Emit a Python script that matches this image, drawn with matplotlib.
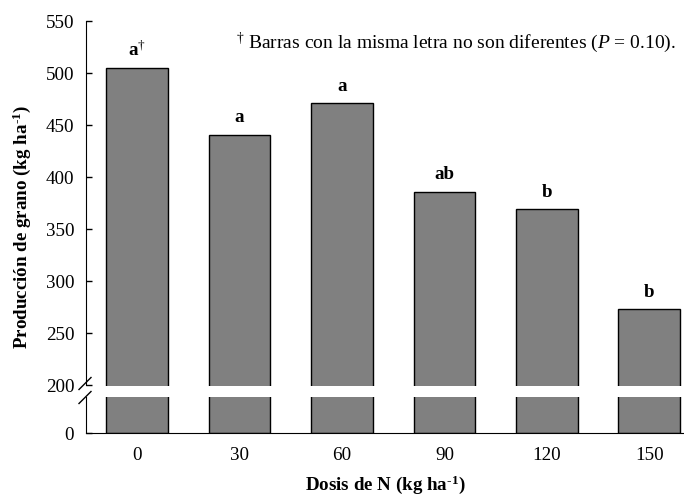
import matplotlib
matplotlib.use("Agg")
import matplotlib.pyplot as plt
import numpy as np

# Data
doses = ["0", "30", "60", "90", "120", "150"]
yield_kg = [505, 441, 471, 386, 369, 273]
letters = ["a$^{\\dagger}$", "a", "a", "ab", "b", "b"]
top_ticks = [200, 250, 300, 350, 400, 450, 500, 550]

plt.rcParams['font.family'] = ['Liberation Serif', 'DejaVu Serif']
plt.rcParams['mathtext.fontset'] = 'custom'
plt.rcParams['mathtext.rm'] = 'Liberation Serif'
plt.rcParams['mathtext.it'] = 'Liberation Serif:italic'
plt.rcParams['mathtext.bf'] = 'Liberation Serif:bold'

FS = 13.7
W, H = 684, 504
fig = plt.figure(figsize=(W / 100, H / 100), dpi=100)

left = 86 / W
width = (W - 86) / W
ax1 = fig.add_axes([left, 1 - 385.5 / H, width, (385.5 - 21) / H])
ax2 = fig.add_axes([left, 1 - 433 / H, width, (433 - 397) / H])

x = np.arange(len(doses))
for ax in (ax1, ax2):
    ax.bar(x, yield_kg, width=0.6, color="#808080", edgecolor="black", linewidth=1.0)
    ax.set_xlim(-0.5, 5.34)
    for s in ("top", "right"):
        ax.spines[s].set_visible(False)
    ax.tick_params(axis="y", direction="in", length=4.5, width=1, labelsize=FS, pad=8.5)

ax1.set_ylim(200, 550)
ax1.set_yticks(top_ticks)
ax1.spines["bottom"].set_visible(False)
ax1.set_xticks([])

ax2.set_ylim(0, 34.6)
ax2.set_yticks([0])
ax2.set_xticks(x)
ax2.set_xticklabels(doses)
ax2.tick_params(axis="x", length=0, labelsize=FS, pad=10)

# Letters above bars
for xi, v, lab in zip(x, yield_kg, letters):
    ax1.annotate(lab, (xi, v), xytext=(0, 6), textcoords="offset points",
                 ha="center", va="bottom", fontsize=FS, fontweight="bold")

# Break marks on the y axis
for yc in (383.5, 397.5):
    fig.add_artist(plt.Line2D([79 / W, 91 / W], [1 - (yc + 6) / H, 1 - (yc - 6) / H],
                              color="black", linewidth=1.0))

sup = "$^{\\mathbf{\u2010 1}}$".replace(" ", "")
fig.text(22 / W, 1 - 227 / H, "Producción de grano (kg ha" + sup + ")",
         rotation=90, ha="center", va="center", fontsize=FS, fontweight="bold")
fig.text(385 / W, 1 - 485 / H, "Dosis de N (kg ha" + sup + ")",
         ha="center", va="center", fontsize=FS, fontweight="bold")
fig.text(236 / W, 1 - 43 / H,
         "$^{\\dagger}$ Barras con la misma letra no son diferentes ($\\mathit{P}$ = 0.10).",
         ha="left", va="center", fontsize=14)

fig.savefig("out.png", dpi=100)
